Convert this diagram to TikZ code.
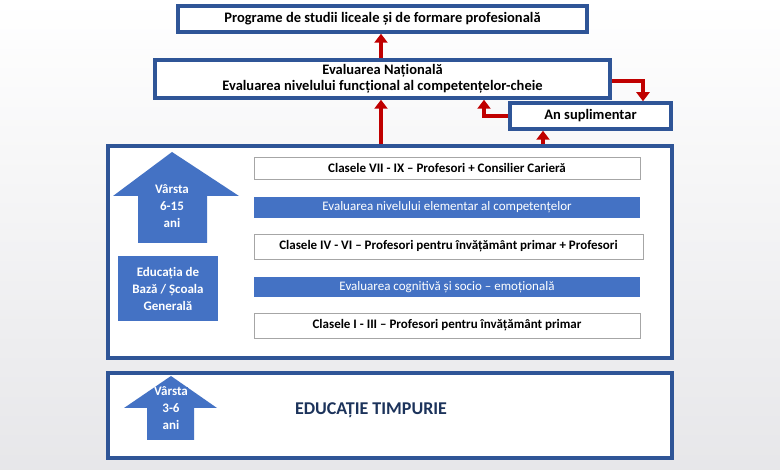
\documentclass[tikz,border=0pt]{standalone}
\usepackage{fontspec}
\setmainfont{Carlito}
\usetikzlibrary{arrows.meta,shapes.arrows}
\definecolor{frame}{HTML}{2F5597}
\definecolor{fillb}{HTML}{4472C4}
\definecolor{redc}{HTML}{C00000}
\begin{document}
\begin{tikzpicture}[x=1pt,y=-1pt,
  framebox/.style={draw=frame,line width=3.5pt,fill=white,align=center,font=\bfseries\fontsize{14.5}{16}\selectfont,inner sep=0pt},
  rowbox/.style={draw=gray!70,line width=0.8pt,fill=white,font=\bfseries\fontsize{13}{15}\selectfont,inner sep=0pt},
  evbox/.style={fill=fillb,text=white,font=\fontsize{13}{15}\selectfont,inner sep=0pt},
  redarrow/.style={draw=redc,line width=4.5pt,-{Triangle[length=9pt,width=13pt]}},
  agearrow/.style={fill=fillb,text=white,font=\bfseries\fontsize{13}{17}\selectfont,align=center}]
\shade[top color=white,bottom color=blue!6!gray!18] (0,0) rectangle (780,470);
\useasboundingbox (0,0) rectangle (780,470);
\node[framebox,minimum width=409pt,minimum height=26pt] (prog) at (382.5,19) {Programe de studii liceale și de formare profesională};
\node[framebox,minimum width=455pt,minimum height=38pt] (nat) at (382.5,79) {Evaluarea Națională\\Evaluarea nivelului funcțional al competențelor-cheie};
\node[framebox,minimum width=161pt,minimum height=26pt] (an) at (590.5,116) {An suplimentar};
\node[framebox,minimum width=564pt,minimum height=212pt] (baza) at (390,252) {};
\node[framebox,minimum width=564pt,minimum height=85pt] (timp) at (390,415.5) {};
\node[rowbox,minimum width=386pt,minimum height=22pt] (r1) at (447,168) {Clasele VII - IX – Profesori + Consilier Carieră};
\node[evbox,minimum width=386pt,minimum height=21pt] (e1) at (447,207.5) {Evaluarea nivelului elementar al competențelor};
\node[rowbox,minimum width=389pt,minimum height=25pt] (r2) at (448.5,246.5) {Clasele IV - VI – Profesori pentru învățământ primar + Profesori};
\node[evbox,minimum width=386pt,minimum height=20pt] (e2) at (447,287) {Evaluarea cognitivă și socio – emoțională};
\node[rowbox,minimum width=386pt,minimum height=25pt] (r3) at (447,325.5) {Clasele I - III – Profesori pentru învățământ primar};
\fill[fillb] (172,152) -- (239,196) -- (207,196) -- (207,243) -- (138,243) -- (138,196) -- (113,196) -- cycle;
\node[agearrow] (v1) at (172,206) {Vârsta\\6-15\\ani};
\node[agearrow,minimum width=100pt,minimum height=65pt,inner sep=0pt] (edu) at (168,288.5) {Educația de\\Bază / Școala\\Generală};
\fill[fillb] (171,376) -- (217,408) -- (194,408) -- (194,440) -- (147,440) -- (147,408) -- (124,408) -- cycle;
\node[agearrow,inner sep=0pt] (v2) at (171,408) {Vârsta\\3-6\\ani};
\node[font=\bfseries\fontsize{18}{22}\selectfont,text=frame!60!black] (et) at (371,410) {EDUCAȚIE TIMPURIE};
\draw[redarrow] (baza.north -| 381,0) -- (nat.south -| 381,0);
\draw[redarrow] (nat.north -| 381,0) -- (prog.south -| 381,0);
\draw[redarrow] (nat.east |- 0,81) -| (an.north -| 643,0);
\draw[redarrow] (an.west |- 0,116) -| (nat.south -| 484,0);
\draw[redarrow] (baza.north -| 543,0) -- (an.south -| 543,0);
\end{tikzpicture}
\end{document}
